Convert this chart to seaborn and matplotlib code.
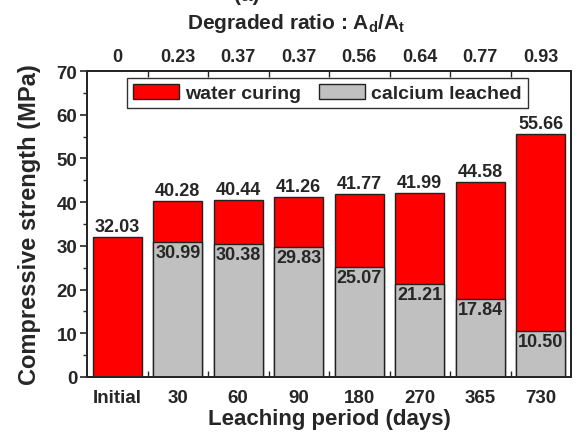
import numpy as np
import pandas as pd
import matplotlib
matplotlib.use("Agg")
import matplotlib.pyplot as plt
import seaborn as sns
from matplotlib.patches import Patch

periods = ["Initial", "30", "60", "90", "180", "270", "365", "730"]
water_curing = [32.03, 40.28, 40.44, 41.26, 41.77, 41.99, 44.58, 55.66]
leached_periods = ["30", "60", "90", "180", "270", "365", "730"]
calcium_leached = [30.99, 30.38, 29.83, 25.07, 21.21, 17.84, 10.50]
degraded_ratio = ["0", "0.23", "0.37", "0.37", "0.56", "0.64", "0.77", "0.93"]

sns.set_style("ticks")
plt.rcParams["font.family"] = ["Liberation Sans", "DejaVu Sans"]
plt.rcParams["font.weight"] = "bold"
plt.rcParams["axes.linewidth"] = 1.4
plt.rcParams["mathtext.fontset"] = "custom"
plt.rcParams["mathtext.rm"] = "Liberation Sans:bold"
plt.rcParams["mathtext.bf"] = "Liberation Sans:bold"
plt.rcParams["mathtext.it"] = "Liberation Sans:bold"
plt.rcParams["mathtext.default"] = "bf"

fig = plt.figure(figsize=(5.8, 4.35), dpi=100)
ax = fig.add_axes([87 / 580, 1 - 378 / 435, (571 - 87) / 580, (378 - 72) / 435])

df_w = pd.DataFrame({"period": periods, "value": water_curing})
df_c = pd.DataFrame({"period": leached_periods, "value": calcium_leached})

sns.barplot(data=df_w, x="period", y="value", order=periods, color="#FF0000",
            saturation=1, edgecolor="#222222", linewidth=1.0, width=0.81,
            errorbar=None, ax=ax)
sns.barplot(data=df_c, x="period", y="value", order=periods, color="#C0C0C0",
            saturation=1, edgecolor="#222222", linewidth=1.0, width=0.81,
            errorbar=None, ax=ax)

for i, v in enumerate(water_curing):
    ax.annotate(f"{v:.2f}", xy=(i, v), xytext=(0, 1.5), textcoords="offset points",
                ha="center", va="bottom", fontsize=13, fontweight="bold")
for p, v in zip(leached_periods, calcium_leached):
    i = periods.index(p)
    ax.annotate(f"{v:.2f}", xy=(i, v), xytext=(0, -1.5), textcoords="offset points",
                ha="center", va="top", fontsize=13, fontweight="bold")

ax.set_xlim(-0.5, 7.5)
ax.set_ylim(0, 70)
ax.set_yticks(np.arange(0, 71, 10))
ax.set_yticks(np.arange(5, 70, 10), minor=True)
ax.set_xticks(np.arange(len(periods)))
ax.set_xticklabels(periods)
ax.set_xticks(np.arange(0.5, 7, 1), minor=True)
ax.tick_params(axis="x", which="major", length=0, pad=9, labelsize=13.5)
ax.tick_params(axis="x", which="minor", direction="in", length=4, width=1)
ax.tick_params(axis="y", which="major", direction="out", length=5, width=1.2, labelsize=13.5, pad=2)
ax.tick_params(axis="y", which="minor", direction="out", length=3, width=1)
for lab in ax.get_xticklabels() + ax.get_yticklabels():
    lab.set_fontweight("bold")

ax.set_xlabel("Leaching period (days)", fontsize=16, fontweight="bold", labelpad=1)
ax.set_ylabel("Compressive strength (MPa)", fontsize=17, fontweight="bold", labelpad=11)
for s in ax.spines.values():
    s.set_visible(True)
    s.set_linewidth(1.4)

ax2 = ax.twiny()
ax2.set_xlim(ax.get_xlim())
ax2.set_xticks(np.arange(len(periods)))
ax2.set_xticklabels(degraded_ratio)
ax2.set_xticks(np.arange(0.5, 7, 1), minor=True)
ax2.tick_params(axis="x", which="major", length=0, pad=4, labelsize=13)
ax2.tick_params(axis="x", which="minor", direction="in", length=4, width=1)
for lab in ax2.get_xticklabels():
    lab.set_fontweight("bold")
ax2.set_xlabel(r"Degraded ratio : A$_{d}$/A$_{t}$", fontsize=15, fontweight="bold")
ax2.xaxis.set_label_coords(0.432, 1.14)

handles = [Patch(facecolor="#FF0000", edgecolor="#222222", linewidth=1.0),
           Patch(facecolor="#C0C0C0", edgecolor="#222222", linewidth=1.0)]
leg = ax.legend(handles, ["water curing", "calcium leached"], loc="upper center",
                bbox_to_anchor=(0.497, 0.977), borderaxespad=0,
                ncol=2, frameon=True, fancybox=False, prop={"weight": "bold", "size": 14},
                handlelength=2.35, handleheight=0.85,
                borderpad=0.3, columnspacing=0.9, handletextpad=0.35)
leg.get_frame().set_edgecolor("black")
leg.get_frame().set_linewidth(1.0)

fig.text(0.425, 0.997, "(a)", ha="center", va="baseline", fontsize=15, fontweight="bold")

fig.savefig("out.png", dpi=100)
